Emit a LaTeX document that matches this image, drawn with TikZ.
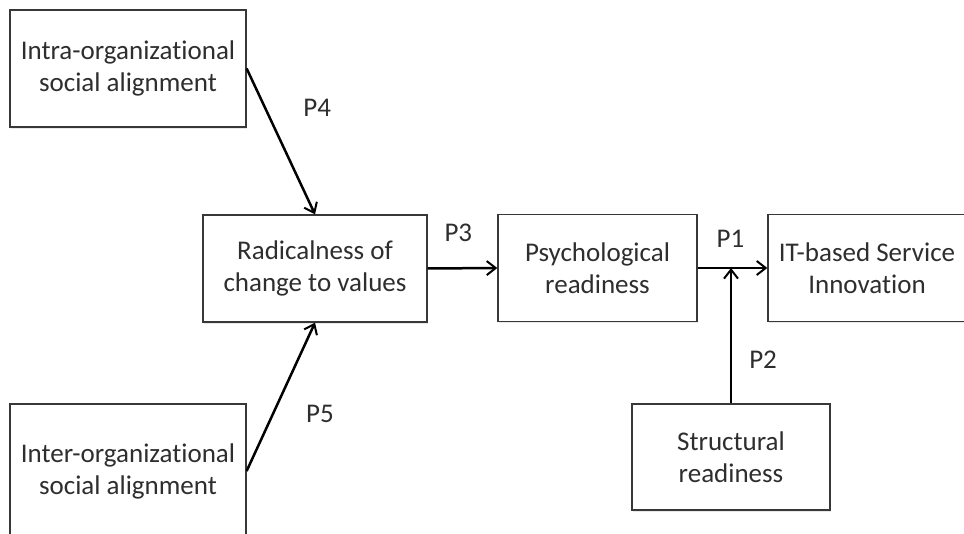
\documentclass[tikz,border=0pt]{standalone}
\usepackage{fontspec}
\setmainfont{Carlito}[Ligatures=CommonOff]
\usetikzlibrary{positioning,arrows.meta,shadows}
\tikzset{
  box/.style={draw=black!78,fill=white,line width=1.3pt,align=center,inner sep=0pt,
    font=\fontsize{27}{32}\selectfont,text=black!82,
    drop shadow={opacity=0.18,shadow xshift=1pt,shadow yshift=-2pt}},
  arr/.style={-{Straight Barb[length=9pt,width=14pt,line width=2pt]},line width=2.5pt},
  lbl/.style={font=\fontsize{27}{32}\selectfont,text=black!82,inner sep=0pt}}
\begin{document}
\begin{tikzpicture}[x=1pt,y=-1pt]
\useasboundingbox (0,0) rectangle (964,534);
\clip (0,0) rectangle (964,534);
% constructs
\node[box,minimum width=236pt,minimum height=117pt] (intra) at (128,68.5) {Intra-organizational\\social alignment};
\node[box,minimum width=236pt,minimum height=134pt] (inter) at (128,471) {Inter-organizational\\social alignment};
\node[box,minimum width=224pt,minimum height=107pt] (radical) at (315,268.5) {Radicalness of\\change to values};
\node[box,minimum width=199pt,minimum height=107pt] (psych) at (597.5,268) {Psychological\\readiness};
\node[box,minimum width=198pt,minimum height=107pt] (itsi) at (867,268) {IT-based Service\\Innovation};
\node[box,minimum width=198pt,minimum height=106pt] (struct) at (731,457) {Structural\\readiness};
\coordinate (join) at (struct.north |- psych.east);
% propositions
\draw[arr] (intra.east) -- node[lbl,pos=0.27,right=37pt]{P4} (radical.north);
\draw[arr] (inter.east) -- node[lbl,pos=0.385,right=32pt]{P5} (radical.south);
\draw[arr] (radical.east) -- node[lbl,pos=0.44,above=25pt]{P3} (psych.west);
\draw[arr] (psych.east) -- node[lbl,pos=0.47,above=19pt]{P1} (itsi.west);
\draw[arr] (struct.north) -- node[lbl,pos=0.32,right=17pt]{P2} (join);
\end{tikzpicture}
\end{document}
